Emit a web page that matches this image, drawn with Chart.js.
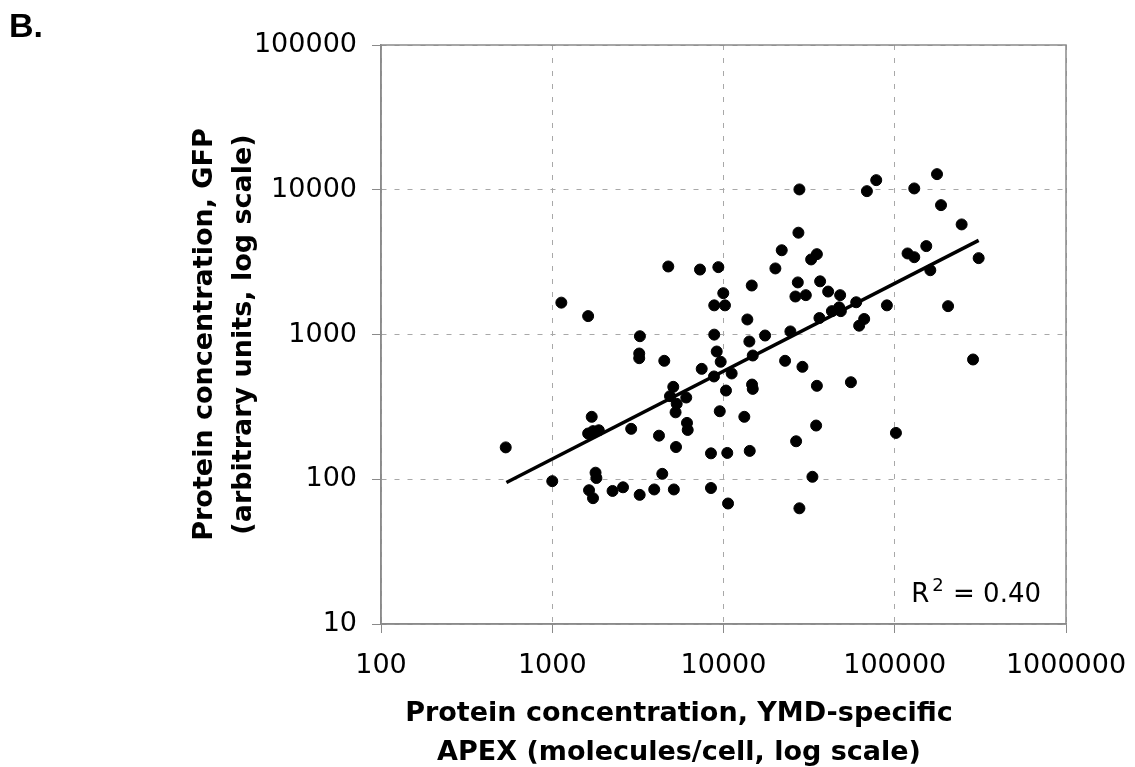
<!DOCTYPE html>
<html lang="en">
<head>
    <meta charset="UTF-8">
    <title>Protein concentration scatter</title>
    <script src="https://cdn.jsdelivr.net/npm/chart.js"></script>
    <style>
        html, body { margin: 0; padding: 0; background: #fff; }
        #wrap { width: 1135px; height: 767px; }
    </style>
</head>
<body>
    <div id="wrap"><canvas id="chart" width="1135" height="767"></canvas></div>

    <script>
        // APEX (molecules/cell) values
        var apexValues = [535, 1000, 1130, 1620, 1700, 1620, 1730, 1870, 1790, 1810,
            1640, 1730, 2250, 2590, 2890, 3240, 3250, 3220, 3220, 3940,
            4200, 4390, 4510, 4760, 5090, 4870, 5330, 5250, 5280, 5130,
            6060, 6120, 6180, 7290, 7460, 8450, 8450, 8830, 8830, 8800,
            9130, 9330, 9510, 9630, 9970, 10200, 10340, 10520, 10630, 11160,
            13230, 13780, 14160, 14230, 14620, 14680, 14820, 14820, 17490, 20090,
            21880, 22890, 24580, 26300, 26550, 27160, 27380, 27750, 27750, 28900,
            30250, 32490, 33050, 34750, 35100, 35100, 36330, 36660, 40840, 42950,
            47360, 47990, 48440, 55460, 59560, 61960, 66300, 68770, 77960, 89980,
            101600, 118800, 130000, 130000, 152800, 161300, 176500, 186300, 204800, 245800,
            286600, 309000];
        // GFP (arbitrary units)
        var gfpValues = [166, 97, 1660, 1340, 270, 207, 215, 218, 111, 102,
            84, 74, 83, 88, 223, 78, 973, 739, 686, 85,
            200, 109, 658, 2950, 435, 375, 332, 290, 167, 85,
            367, 245, 219, 2810, 579, 151, 87, 1590, 998, 513,
            763, 2920, 295, 648, 1930, 1590, 410, 152, 68, 538,
            270, 1270, 895, 157, 2180, 451, 421, 716, 984, 2860,
            3820, 658, 1050, 1830, 183, 2290, 5050, 10050, 63, 598,
            1870, 3300, 104, 235, 3590, 442, 1300, 2330, 1980, 1450,
            1540, 1870, 1450, 468, 1670, 1150, 1280, 9780, 11650, 1590,
            209, 3630, 3420, 10210, 4080, 2780, 12820, 7830, 1570, 5760,
            672, 3370];

        // regression line end points (log-log fit)
        var fitX = [540, 309000];
        var fitY = [95, 4470];

        var xTicks = [100, 1000, 10000, 100000, 1000000];
        var yTicks = [10, 100, 1000, 10000, 100000];

        var xTitle = ['Protein concentration, YMD-specific', 'APEX (molecules/cell, log scale)'];
        var yTitle = ['Protein concentration, GFP', '(arbitrary units, log scale)'];
        var panelLabel = 'B.';
        var r2Value = '0.40';

        var points = apexValues.map(function (x, i) { return { x: x, y: gfpValues[i] }; });
        var fitPoints = fitX.map(function (x, i) { return { x: x, y: fitY[i] }; });

        var tickFont = { family: 'DejaVu Sans', size: 27 };
        var titleFont = { family: 'DejaVu Sans', size: 27, weight: 'bold', lineHeight: 1.45 };
        var axisGray = '#8a8a8a';

        var extras = {
            id: 'extras',
            beforeDatasetsDraw: function (chart) {
                var c = chart.ctx, a = chart.chartArea;
                c.save();
                c.strokeStyle = axisGray;
                c.lineWidth = 1.5;
                c.strokeRect(a.left, a.top, a.right - a.left, a.bottom - a.top);
                c.restore();
            },
            afterDraw: function (chart) {
                var c = chart.ctx, a = chart.chartArea;
                c.save();
                c.fillStyle = '#000';

                // panel letter
                c.textAlign = 'left';
                c.textBaseline = 'alphabetic';
                c.font = 'bold 34px "Liberation Sans", Arial, sans-serif';
                c.fillText(panelLabel, 9, 37);

                // x axis title, centred a bit left of the plot like the original
                c.font = 'bold 27px "DejaVu Sans"';
                c.textAlign = 'center';
                c.textBaseline = 'middle';
                xTitle.forEach(function (line, i) {
                    c.fillText(line, 679, 714 + i * 39);
                });

                // R squared label
                c.textBaseline = 'alphabetic';
                c.textAlign = 'right';
                var yb = a.bottom - 22;
                var xr = a.right - 25;
                c.font = '26px "DejaVu Sans"';
                var rest = ' = ' + r2Value;
                var wRest = c.measureText(rest).width;
                c.fillText(rest, xr, yb);
                c.font = '18px "DejaVu Sans"';
                var x2 = xr - wRest - 1;
                c.fillText('2', x2, yb - 11);
                var w2 = c.measureText('2').width;
                c.font = '26px "DejaVu Sans"';
                c.fillText('R', x2 - w2 - 3, yb);
                c.restore();
            }
        };

        var ctx = document.getElementById('chart').getContext('2d');
        var chart = new Chart(ctx, {
            type: 'scatter',
            data: {
                datasets: [{
                    label: 'Proteins',
                    data: points,
                    backgroundColor: '#000',
                    borderColor: '#000',
                    pointRadius: 5.5,
                    pointHoverRadius: 5.5
                }, {
                    type: 'line',
                    label: 'Fit',
                    data: fitPoints,
                    borderColor: '#000',
                    borderWidth: 3.5,
                    pointRadius: 0,
                    fill: false
                }]
            },
            options: {
                responsive: false,
                animation: false,
                maintainAspectRatio: false,
                layout: { padding: { top: 45, right: 69, left: 0, bottom: 0 } },
                plugins: {
                    legend: { display: false },
                    tooltip: { enabled: false }
                },
                scales: {
                    x: {
                        type: 'logarithmic',
                        position: 'bottom',
                        min: 100,
                        max: 1000000,
                        afterBuildTicks: function (scale) {
                            scale.ticks = xTicks.map(function (v) { return { value: v }; });
                        },
                        afterFit: function (scale) {
                            scale.height = 143;
                            scale.paddingLeft = 0;
                            scale.paddingRight = 0;
                        },
                        ticks: {
                            color: '#000',
                            font: tickFont,
                            padding: 17,
                            maxRotation: 0,
                            autoSkip: false,
                            callback: function (v) { return String(v); }
                        },
                        grid: {
                            color: '#a8a8a8',
                            tickColor: axisGray,
                            tickLength: 9,
                            lineWidth: 1
                        },
                        border: { color: axisGray, width: 1.5, dash: [5, 8] },
                        title: { display: false }
                    },
                    y: {
                        type: 'logarithmic',
                        position: 'left',
                        min: 10,
                        max: 100000,
                        afterBuildTicks: function (scale) {
                            scale.ticks = yTicks.map(function (v) { return { value: v }; });
                        },
                        afterFit: function (scale) { scale.width = 381; },
                        ticks: {
                            color: '#000',
                            font: tickFont,
                            padding: 15,
                            autoSkip: false,
                            callback: function (v) { return String(v); }
                        },
                        grid: {
                            color: '#a8a8a8',
                            tickColor: axisGray,
                            tickLength: 9,
                            lineWidth: 1
                        },
                        border: { color: axisGray, width: 1.5, dash: [5, 8] },
                        title: {
                            display: true,
                            text: yTitle,
                            color: '#000',
                            font: titleFont,
                            padding: { top: 185, bottom: 0 }
                        }
                    }
                }
            },
            plugins: [extras]
        });
    </script>
</body>
</html>
